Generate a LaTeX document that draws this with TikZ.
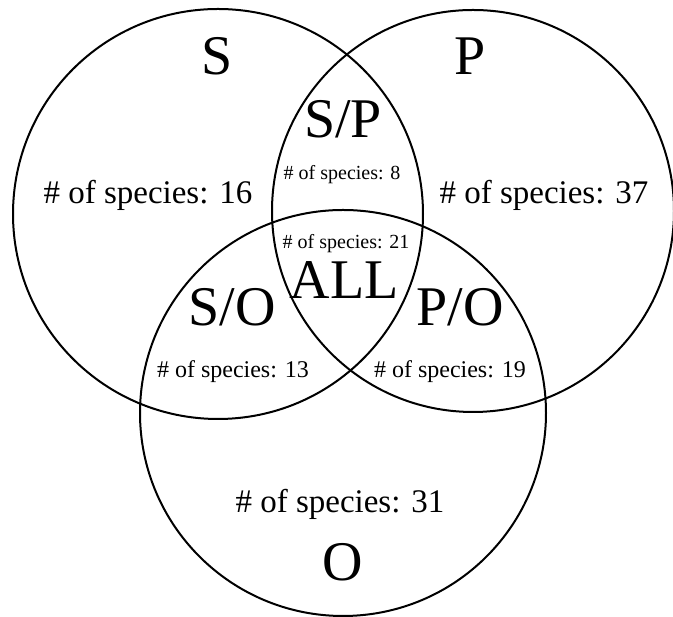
\documentclass[tikz,border=0pt]{standalone}
\usepackage{fontspec}
\setmainfont{Liberation Serif}
\tikzset{
  ring/.style={draw=black, line width=2pt},
  big/.style={anchor=base, inner sep=0pt, font=\fontsize{56}{56}\selectfont},
  cnt/.style={anchor=base, inner sep=0pt, font=\fontsize{33}{33}\selectfont},
  mid/.style={anchor=base, inner sep=0pt, font=\fontsize{24}{24}\selectfont},
  tiny/.style={anchor=base, inner sep=0pt, font=\fontsize{20}{20}\selectfont},
}
\begin{document}
\begin{tikzpicture}[x=1pt,y=1pt]
\useasboundingbox (0,0) rectangle (673,617);
% circles (y = 617 - pixel y)
\node[ring, circle, minimum size=410pt, inner sep=0pt] (cS) at (218,403) {};
\node[ring, circle, minimum size=402pt, inner sep=0pt] (cP) at (473,406) {};
\node[ring, circle, minimum size=406pt, inner sep=0pt] (cO) at (343,204) {};
% labels
\node[big] (lS) at (217,542) {S};
\node[big] (lP) at (470,542) {P};
\node[big] (lSP) at (343,479) {S/P};
\node[big] (lALL) at (344,318) {ALL};
\node[big] (lSO) at (232,291) {S/O};
\node[big] (lPO) at (460,291) {P/O};
\node[big] (lO) at (343,36) {O};
% counts
\node[cnt] (n16) at (148,413) {\# of species: 16};
\node[cnt] (n37) at (544,413) {\# of species: 37};
\node[tiny] (n8) at (342,437) {\# of species: 8};
\node[tiny] (n21) at (346,368) {\# of species: 21};
\node[mid] (n13) at (233,239) {\# of species: 13};
\node[mid] (n19) at (450,239) {\# of species: 19};
\node[cnt] (n31) at (340,104) {\# of species: 31};
\end{tikzpicture}
\end{document}
